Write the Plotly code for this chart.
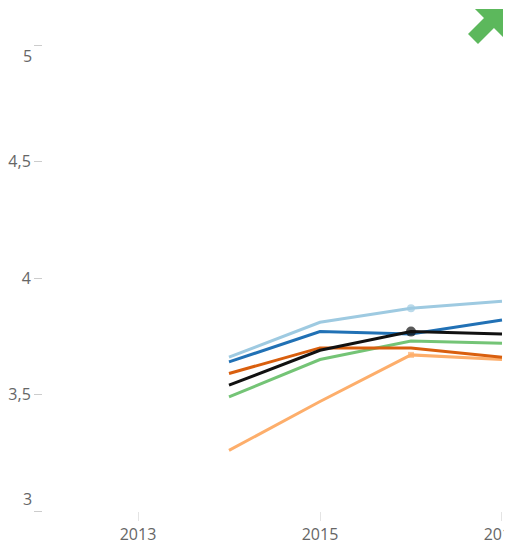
import plotly.graph_objects as go

years = [2014, 2015, 2016, 2017]
light_blue = [3.66, 3.81, 3.87, 3.90]
dark_blue = [3.64, 3.77, 3.76, 3.82]
black = [3.54, 3.69, 3.77, 3.76]
dark_orange = [3.59, 3.70, 3.70, 3.66]
green = [3.49, 3.65, 3.73, 3.72]
light_orange = [3.26, 3.47, 3.67, 3.65]

x_tick_vals = [2013, 2015, 2017]
x_tick_text = ["2013", "2015", "2017"]
y_tick_vals = [3, 3.5, 4, 4.5, 5]
y_tick_text = ["", "3,5", "4", "4,5", ""]
y_end_vals = [5, 3]
y_end_text = ["5", "3"]

series = [
    ("Series F", light_orange, "#fdae6b", True, "square", 6),
    ("Series E", green, "#74c476", False, "circle", 0),
    ("Series D", dark_orange, "#d95f0e", False, "circle", 0),
    ("Series C", dark_blue, "#2171b5", False, "circle", 0),
    ("Series B", light_blue, "#9ecae1", True, "circle", 8),
    ("Series A", black, "#111111", True, "circle", 10),
]

fig = go.Figure()
for name, vals, color, has_marker, sym, msize in series:
    sizes = [msize if (has_marker and yr == 2016) else 0 for yr in years]
    fig.add_trace(go.Scatter(
        x=years, y=vals, name=name, mode="lines+markers",
        line=dict(color=color, width=3),
        marker=dict(color=color, size=sizes, symbol=sym, line=dict(width=0)),
        showlegend=False,
    ))

font = dict(family="Open Sans, Noto Sans, sans-serif", size=16, color="#666666")

# page body has an 8px margin; the plot area is placed to match the window
fig.update_layout(
    width=512, height=537,
    margin=dict(l=35, r=8, t=37, b=34, autoexpand=False),
    paper_bgcolor="white", plot_bgcolor="white",
    separators=",.",
    font=font,
    xaxis=dict(range=[2011.956, 2017.11], tickvals=x_tick_vals, ticktext=x_tick_text,
               showgrid=False, zeroline=False, showline=False,
               ticks="outside", ticklen=9, tickcolor="#e4e4e4", tickfont=font,
               ticklabelstandoff=0, ticklabeloverflow="allow", automargin=False),
    yaxis=dict(range=[3, 5], tickvals=y_tick_vals, ticktext=y_tick_text,
               showgrid=False, zeroline=False, showline=False,
               ticks="outside", ticklen=8, tickcolor="#cccccc", tickfont=font,
               automargin=False),
)

for v, t in zip(y_end_vals, y_end_text):
    fig.add_annotation(x=0, xref="paper", xanchor="right", xshift=-9,
                       y=v, yref="y", yshift=-11 if v == 5 else 12,
                       text=t, showarrow=False, font=font)

# green trend arrow (decoration), reference pixel -> paper conversion
def px(x, y):
    return (x - 43) / 469.0, (511 - y) / 466.0

pts = [(503, 9), (475, 9), (484, 18), (468, 34), (478, 44), (494, 28), (503, 37)]
path = ""
for i, (a, b) in enumerate(pts):
    xx, yy = px(a, b)
    path += ("M" if i == 0 else " L") + f" {xx:.4f} {yy:.4f}"
path += " Z"
fig.add_shape(type="path", path=path, xref="paper", yref="paper",
              fillcolor="#5cb85c", line=dict(width=0))

fig.write_html("out.html")
